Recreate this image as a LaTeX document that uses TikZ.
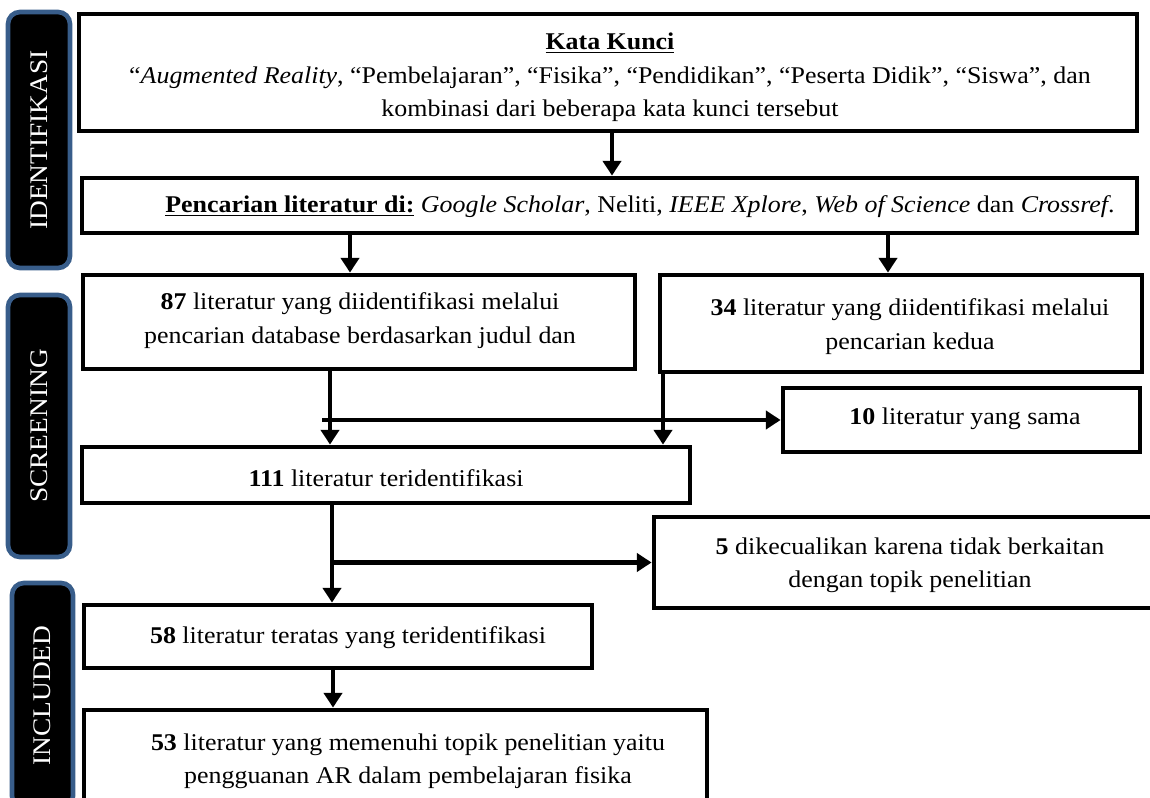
\documentclass[tikz,border=0pt]{standalone}
\usepackage{fontspec}
\setmainfont{Liberation Serif}[FakeStretch=1.08]
\usetikzlibrary{arrows.meta}
\definecolor{sideblue}{HTML}{385D8A}
\begin{document}
\begin{tikzpicture}[x=0.75pt,y=-0.75pt,
  box/.style={draw=black, line width=3.6pt, inner sep=0pt, fill=white},
  txt/.style={font=\fontsize{18}{25}\selectfont, align=center, inner sep=0pt},
  side/.style={draw=sideblue, fill=black, line width=3.5pt, rounded corners=9pt, inner sep=0pt,
    text=white, font=\fontsize{19}{20}\selectfont, rotate=90},
  flow/.style={line width=3.6pt, -{Triangle[width=13.5pt,length=11pt]}}]
\useasboundingbox (0,0) rectangle (1150,798);
\begin{scope}
\clip (0,0) rectangle (1150,798);
% side bars
\node[side, minimum width=256*0.75pt, minimum height=62*0.75pt] (s1) at (39,140) {IDENTIFIKASI};
\node[side, minimum width=262*0.75pt, minimum height=62*0.75pt] (s2) at (39,426) {SCREENING};
\node[side, minimum width=225*0.75pt, minimum height=61*0.75pt] (s3) at (42.5,695.5) {INCLUDED};
% boxes
\node[box, minimum width=1058*0.75pt, minimum height=117*0.75pt] (b1) at (608,72.5) {};
\node[box, minimum width=1055*0.75pt, minimum height=55*0.75pt] (b2) at (609.5,205.5) {};
\node[box, minimum width=552*0.75pt, minimum height=94*0.75pt] (b3) at (359,322) {};
\node[box, minimum width=482*0.75pt, minimum height=97*0.75pt] (b4) at (901,323.5) {};
\node[box, minimum width=357*0.75pt, minimum height=64*0.75pt] (b10) at (961.5,420) {};
\node[box, minimum width=608*0.75pt, minimum height=56*0.75pt] (b111) at (386,475) {};
\node[box, minimum width=512*0.75pt, minimum height=91*0.75pt] (b5) at (910,562.5) {};
\node[box, minimum width=508*0.75pt, minimum height=63*0.75pt] (b58) at (338,636.5) {};
\node[box, minimum width=623*0.75pt, minimum height=120*0.75pt] (b53) at (395.5,770) {};
% texts
\node[txt] (b1t) at (610,77.5) {\underline{\textbf{Kata Kunci}}\\
  “\textit{Augmented Reality}, “Pembelajaran”, “Fisika”, “Pendidikan”, “Peserta Didik”, “Siswa”, dan\\
  kombinasi dari beberapa kata kunci tersebut};
\node[txt] (b2t) at (640,207) {\underline{\textbf{Pencarian literatur di:}} \textit{Google Scholar}, Neliti, \textit{IEEE Xplore}, \textit{Web of Science} dan \textit{Crossref}.};
\node[txt] (b3t) at (360,320.5) {\textbf{87} literatur yang diidentifikasi melalui\\pencarian database berdasarkan judul dan};
\node[txt] (b4t) at (910,326.5) {\textbf{34} literatur yang diidentifikasi melalui\\pencarian kedua};
\node[txt] (b10t) at (965,419) {\textbf{10} literatur yang sama};
\node[txt] (b111t) at (386,478) {\textbf{111} literatur teridentifikasi};
\node[txt] (b5t) at (910,565) {\textbf{5} dikecualikan karena tidak berkaitan\\dengan topik penelitian};
\node[txt] (b58t) at (348,638) {\textbf{58} literatur teratas yang teridentifikasi};
\node[txt] (b53t) at (408,761.5) {\textbf{53} literatur yang memenuhi topik penelitian yaitu\\pengguanan AR dalam pembelajaran fisika};
% connectors
\draw[flow] (b1.south -| 612,0) -- (b2.north -| 612,0);
\draw[flow] (b2.south -| 350,0) -- (b3.north -| 350,0);
\draw[flow] (b2.south -| 888,0) -- (b4.north -| 888,0);
\draw[flow] (b3.south -| 330,0) -- (b111.north -| 330,0);
\draw[flow] (b4.south -| 663,0) -- (b111.north -| 663,0);
\coordinate (h1) at (322,420);
\draw[flow] (h1) -- (b10.west);
\draw[flow] (b111.south -| 332,0) -- (b58.north -| 332,0);
\coordinate (h2) at (332,562.5);
\draw[flow] (h2) -- (b5.west);
\draw[flow] (b58.south -| 333,0) -- (b53.north -| 333,0);
\end{scope}
\end{tikzpicture}
\end{document}
